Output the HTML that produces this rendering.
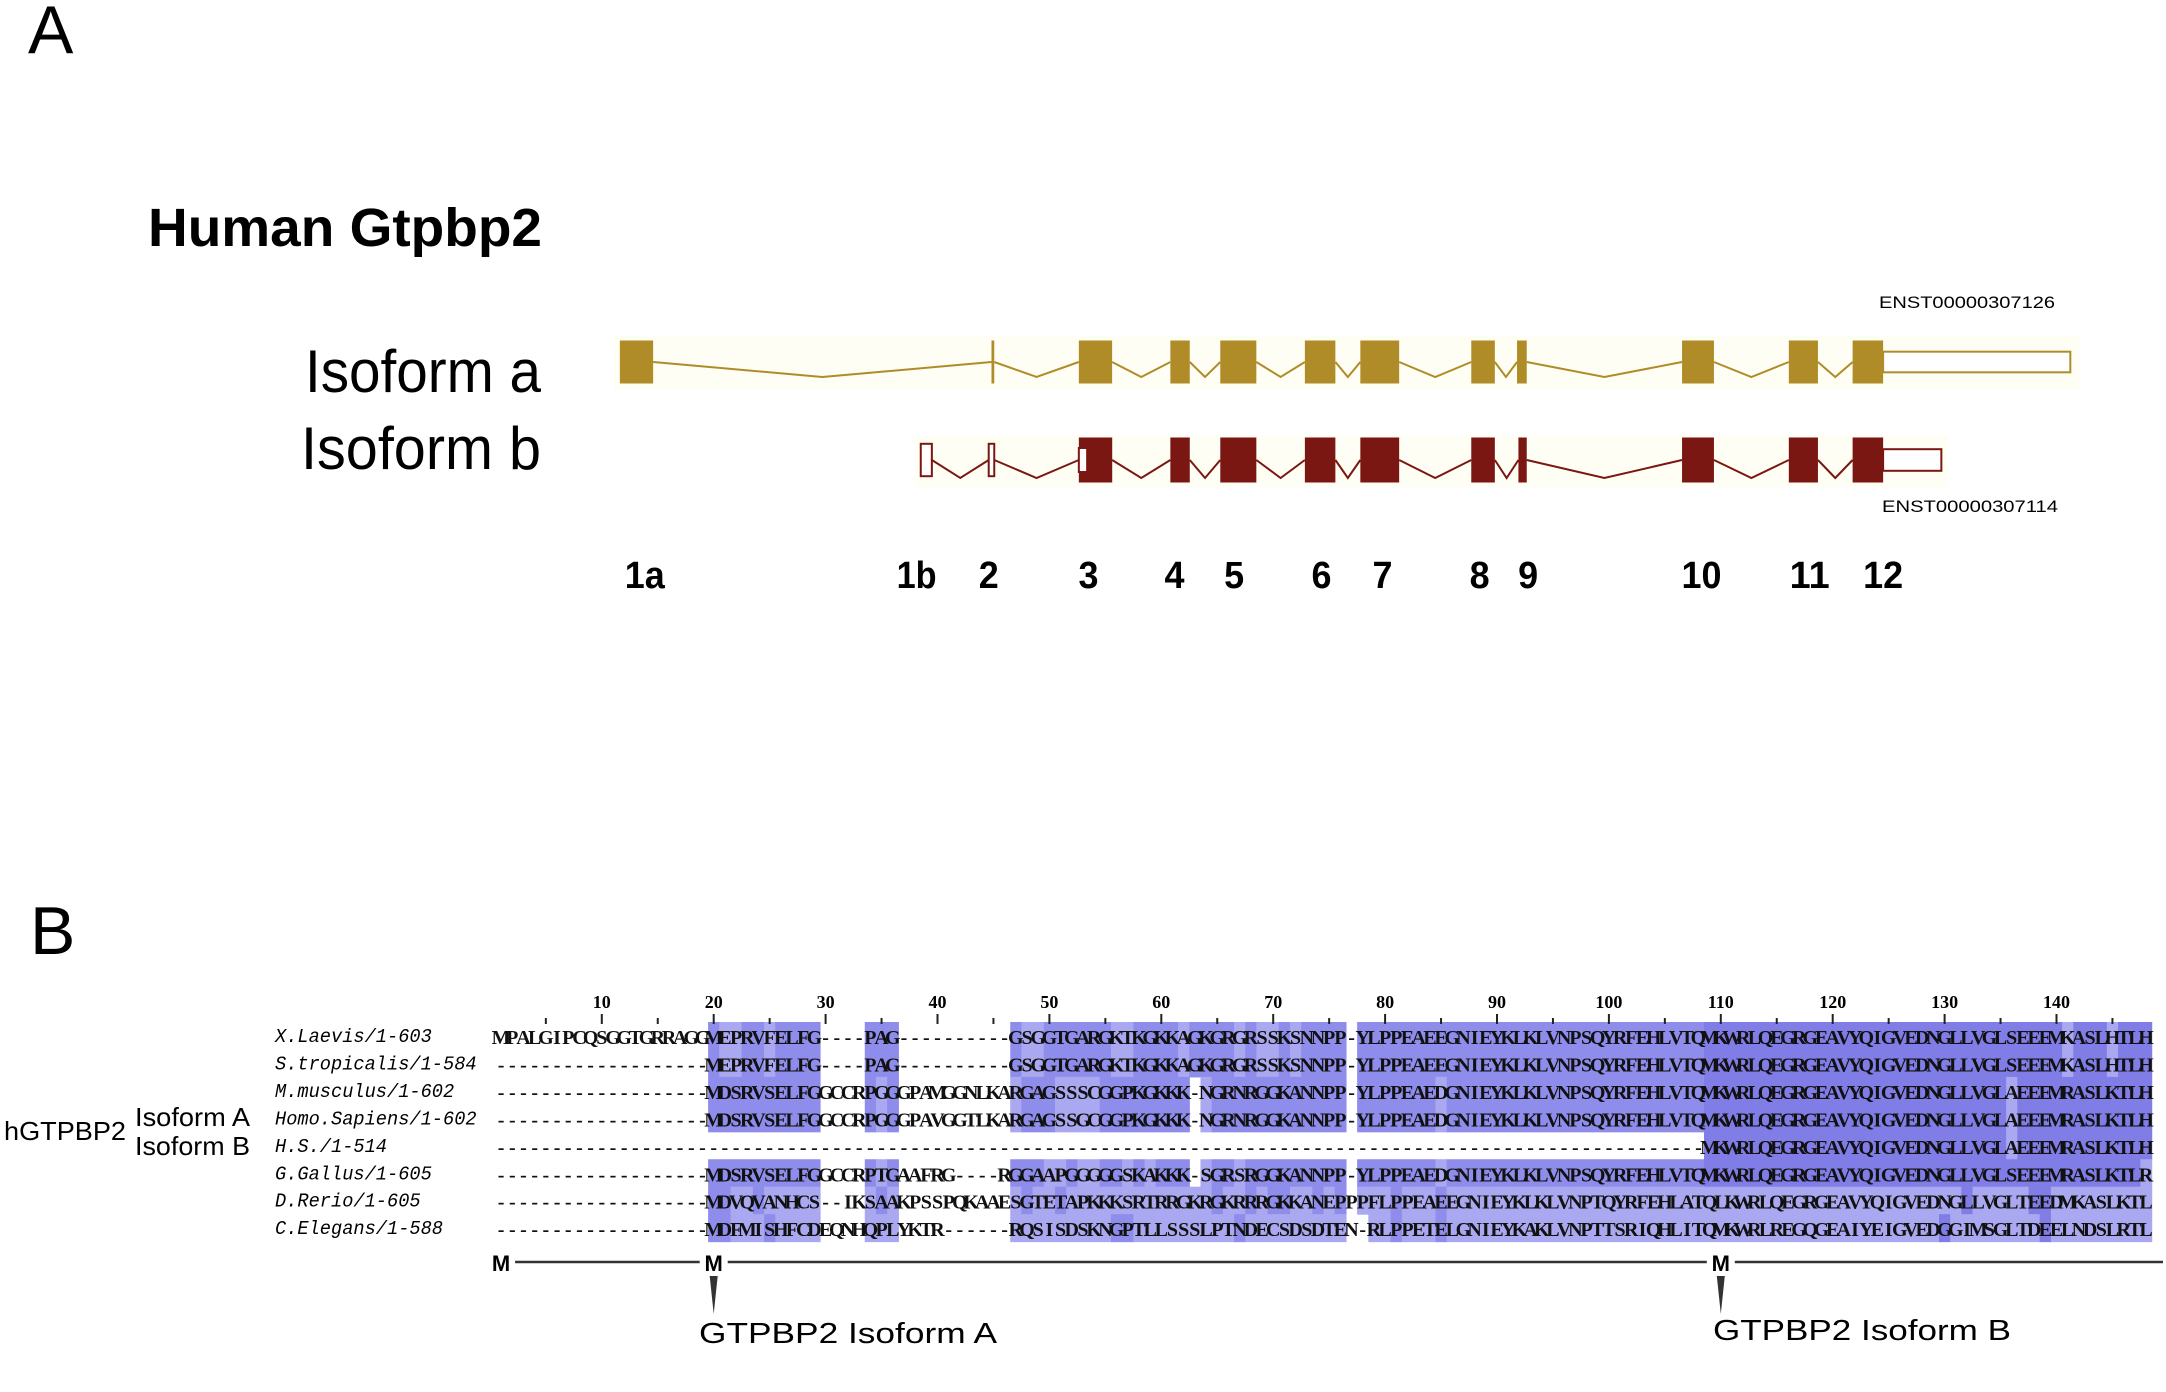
<!DOCTYPE html>
<html><head><meta charset="utf-8"><style>
html,body{margin:0;padding:0;background:#fff;}
svg{display:block;}
text{font-family:"Liberation Sans",sans-serif;}
text.seq{font-family:"Liberation Serif",serif;font-weight:bold;}
text.nm{font-family:"Liberation Mono",monospace;font-style:italic;}
</style></head><body>
<svg id="fig" width="2166" height="1392" viewBox="0 0 2166 1392" xmlns="http://www.w3.org/2000/svg">
<text x="28" y="53" font-size="68">A</text>
<text x="148" y="246" font-size="54" font-weight="bold" textLength="394" lengthAdjust="spacingAndGlyphs">Human Gtpbp2</text>
<text x="305" y="392" font-size="60" textLength="236" lengthAdjust="spacingAndGlyphs">Isoform a</text>
<text x="301" y="469" font-size="60" textLength="240" lengthAdjust="spacingAndGlyphs">Isoform b</text>
<text x="1879" y="308" font-size="17" textLength="176" lengthAdjust="spacingAndGlyphs">ENST00000307126</text>
<text x="1882" y="512" font-size="17" textLength="176" lengthAdjust="spacingAndGlyphs">ENST00000307114</text>
<g id="geneA"></g>
<g id="geneB"></g>
<g id="exonNums"></g>
<text x="30" y="954" font-size="68">B</text>
<g id="align"></g>
<text x="4" y="1140" font-size="26" textLength="122" lengthAdjust="spacingAndGlyphs">hGTPBP2</text>
<text x="135" y="1126" font-size="26" textLength="115" lengthAdjust="spacingAndGlyphs">Isoform A</text>
<text x="135" y="1155" font-size="26" textLength="115" lengthAdjust="spacingAndGlyphs">Isoform B</text>
<g id="mline"></g>
<text x="699" y="1343" font-size="29" textLength="298" lengthAdjust="spacingAndGlyphs">GTPBP2 Isoform A</text>
<text x="1713" y="1340" font-size="29" textLength="298" lengthAdjust="spacingAndGlyphs">GTPBP2 Isoform B</text>
</svg>
<script>
// ---------- Gene model data (coordinates in figure units) ----------
const exonStartsA = [447,715,778,844,880,941,981,1061,1094,1213,1290,1336];
const exonEndsA   = [471,717,802,858,906,963,1009,1078,1101,1236,1311,1358];
const utrA = [1358,1493];
const exonStartsB = [664,713,778,844,880,941,981,1061,1095,1213,1290,1336];
const exonEndsB   = [672,717,802,858,906,963,1009,1078,1101,1236,1311,1358];
const filledB     = [0,0,1,1,1,1,1,1,1,1,1,1];
const utrB = [1358,1400];
const exonLabels = ["1a","1b","2","3","4","5","6","7","8","9","10","11","12"];
const exonLabelPos = [465,661,713,785,847,890,953,997,1067,1102,1227,1305,1358];

const S = 2166/1562;
const gx = v => v*S;
const NS = "http://www.w3.org/2000/svg";
function mk(tag, attrs, parent){ const e=document.createElementNS(NS,tag); for(const k in attrs) e.setAttribute(k,attrs[k]); parent.appendChild(e); return e; }

function drawGene(g, starts, ends, filled, utr, cy, h, dip, col, band){
  const bg = mk('rect',{x:band[0],y:band[1],width:band[2],height:band[3],fill:'#fffef5'},g);
  
  
  for(let i=0;i<starts.length-1;i++){
    const x1=gx(ends[i]), x2=gx(starts[i+1]), m=(x1+x2)/2;
    const p = mk('polyline',{points:`${x1},${cy} ${m},${cy+dip} ${x2},${cy}`,fill:'none',stroke:col,'stroke-width':2},g);
    
    
  }
  const u = mk('rect',{x:gx(utr[0]),y:cy-h*0.24,width:gx(utr[1])-gx(utr[0]),height:h*0.48,fill:'#fff',stroke:col,'stroke-width':2},g);
  
  
  for(let i=0;i<starts.length;i++){
    const w=Math.max(gx(ends[i])-gx(starts[i]),2);
    let r;
    if(filled[i]) r=mk('rect',{x:gx(starts[i]),y:cy-h/2,width:w,height:h,fill:col},g);
    else r=mk('rect',{x:gx(starts[i]),y:cy-h*0.36,width:w,height:h*0.72,fill:'#fff',stroke:col,'stroke-width':2},g);
    
    
  }
}
drawGene(document.getElementById('geneA'), exonStartsA, exonEndsA, exonStartsA.map(()=>1), utrA, 362, 43, 15, '#b08c28',[614,336,1466,54]);
drawGene(document.getElementById('geneB'), exonStartsB, exonEndsB, filledB, utrB, 460, 45, 18, '#7a1712',[915,435,1033,52]);
(function(){const g=document.getElementById('geneB');
 const r=mk('rect',{x:gx(778),y:448,width:gx(784)-gx(778),height:24,fill:'#fff',stroke:'#7a1712','stroke-width':2},g);
 
 
 const f=mk('rect',{x:gx(784),y:437.5,width:gx(802)-gx(784),height:45,fill:'#7a1712'},g);
 
 
})();
(function(){const g=document.getElementById('exonNums');
 exonLabels.forEach((l,i)=>{
  const t=mk('text',{x:gx(exonLabelPos[i]),y:588,'font-size':38,'font-weight':'bold','text-anchor':'middle',textLength:l.length*20,lengthAdjust:'spacingAndGlyphs'},g);
  t.textContent=l;
  
  
 });
})();

// ---------- Alignment data ----------
const seqNames = ["X.Laevis/1-603","S.tropicalis/1-584","M.musculus/1-602","Homo.Sapiens/1-602","H.S./1-514","G.Gallus/1-605","D.Rerio/1-605","C.Elegans/1-588"];
const D19 = "-------------------";
const seqs = [
 "MPALGIPCQSGGTGRRAGGMEPRVFELFG----PAG----------GSGGTGARGKTKGKKAGKGRGRSSKSNNPP-YLPPEAEEGNIEYKLKLVNPSQYRFEHLVTQMKWRLQEGRGEAVYQIGVEDNGLLVGLSEEEMKASLHTLH",
 D19+"MEPRVFELFG----PAG----------GSGGTGARGKTKGKKAGKGRGRSSKSNNPP-YLPPEAEEGNIEYKLKLVNPSQYRFEHLVTQMKWRLQEGRGEAVYQIGVEDNGLLVGLSEEEMKASLHTLH",
 D19+"MDSRVSELFGGCCRPGGGPAMGGNLKARGAGSSSCGGPKGKKK-NGRNRGGKANNPP-YLPPEAEDGNIEYKLKLVNPSQYRFEHLVTQMKWRLQEGRGEAVYQIGVEDNGLLVGLAEEEMRASLKTLH",
 D19+"MDSRVSELFGGCCRPGGGPAVGGTLKARGAGSSGCGGPKGKKK-NGRNRGGKANNPP-YLPPEAEDGNIEYKLKLVNPSQYRFEHLVTQMKWRLQEGRGEAVYQIGVEDNGLLVGLAEEEMRASLKTLH",
 "------------------------------------------------------------------------------------------------------------MKWRLQEGRGEAVYQIGVEDNGLLVGLAEEEMRASLKTLH",
 D19+"MDSRVSELFGGCCRPTGAAFRG----RGGAAPGGGGGSKAKKK-SGRSRGGKANNPP-YLPPEAEDGNIEYKLKLVNPSQYRFEHLVTQMKWRLQEGRGEAVYQIGVEDNGLLVGLSEEEMRASLKTLRR",
 D19+"MDVQVANHCS--IKSAAKPSSPQKAAESGTETAPKKKSRTRRGKRGKRRRGKKANEPPPFLPPEAEEGNIEYKLKLVNPTQYRFEHLATQLKWRLQEGRGEAVYQIGVEDNGLLVGLTEEDMKASLKTLR",
 D19+"MDFMISHFCDEQNHQPLYKTR------RQSISDSKNGPTLLSSSLPTNDECSDSDTEN-RLPPETELGNIEYKAKLVNPTTSRIQHLITQMKWRLREGQGEAIYEIGVEDGGIMSGLTDEELNDSLRTLR"
];
const rulerTicks = [10,20,30,40,50,60,70,80,90,100,110,120,130,140];
const mMarks = [1,20,110];
const shadedBlocks = [[20,29],[34,36],[47,76],[78,148]];

const NCOL = 148;
const colX = i => 601.8 + (i-10)*11.19;
const CW = 11.19;
const rowY = r => 1036 + r*27.45;
const seqN = seqs.map(s => (s + "-".repeat(NCOL)).slice(0,NCOL));
const inBlock = c => shadedBlocks.some(b => c>=b[0] && c<=b[1]);

(function(){
 const g=document.getElementById('align');
 for(let c=1;c<=NCOL;c++){
  if(!inBlock(c)) continue;
  const cnt={};
  seqN.forEach(s=>{const ch=s[c-1]; if(ch!=='-') cnt[ch]=(cnt[ch]||0)+1;});
  let best=null,bn=0; for(const k in cnt) if(cnt[k]>bn){bn=cnt[k];best=k;}
  seqN.forEach((s,r)=>{
   const ch=s[c-1];
   if(ch==='-') return;
   let col;
   if(ch===best) col = c>=109 ? '#807ee6' : '#8f8dec';
   else col = '#aaa8f0';
   const rc=mk('rect',{x:colX(c)-CW/2,y:rowY(r)-14,width:CW+0.6,height:28,fill:col},g);
   
   
  });
 }
 for(let i=5;i<=NCOL;i+=5){
  const major=i%10===0;
  const t=mk('line',{x1:colX(i),x2:colX(i),y1:major?1014:1018,y2:1024,stroke:'#222','stroke-width':2},g);
  
  
 }
 rulerTicks.forEach(v=>{
  const t=mk('text',{x:colX(v),y:1008,'font-size':18,'text-anchor':'middle','class':'seq'},g);
  t.textContent=v;
  
  
 });
 seqNames.forEach((n,r)=>{
  const t=mk('text',{x:275,y:rowY(r)+6,'font-size':19,'class':'nm',textLength:n.length*11.2,lengthAdjust:'spacingAndGlyphs'},g);
  t.textContent=n;
  
  
  const row=mk('g',{},g);
  
  
  for(let c=1;c<=NCOL;c++){
   const ch=seqN[r][c-1];
   const tc=mk('text',{x:colX(c),y:rowY(r)+8,'font-size':20,'class':'seq','text-anchor':'middle',fill:'#111'},row);
   tc.textContent=ch;
  }
 });
 const m=document.getElementById('mline');
 const xs=mMarks.map(colX);
 for(let i=0;i<xs.length;i++){
  const l=mk('line',{x1:xs[i]+14,x2:(i<xs.length-1?xs[i+1]:2177)-14,y1:1262,y2:1262,stroke:'#333','stroke-width':2.5},m);
  
  
  const t=mk('text',{x:xs[i],y:1271,'font-size':22,'font-weight':'bold','text-anchor':'middle'},m);
  t.textContent='M';
  
  
 }
 [1,2].forEach(i=>{
  const p=mk('polygon',{points:`${xs[i]-4},1276 ${xs[i]+4},1276 ${xs[i]},1314`,fill:'#333'},m);
  
  
 });
})();
</script>
</body></html>
